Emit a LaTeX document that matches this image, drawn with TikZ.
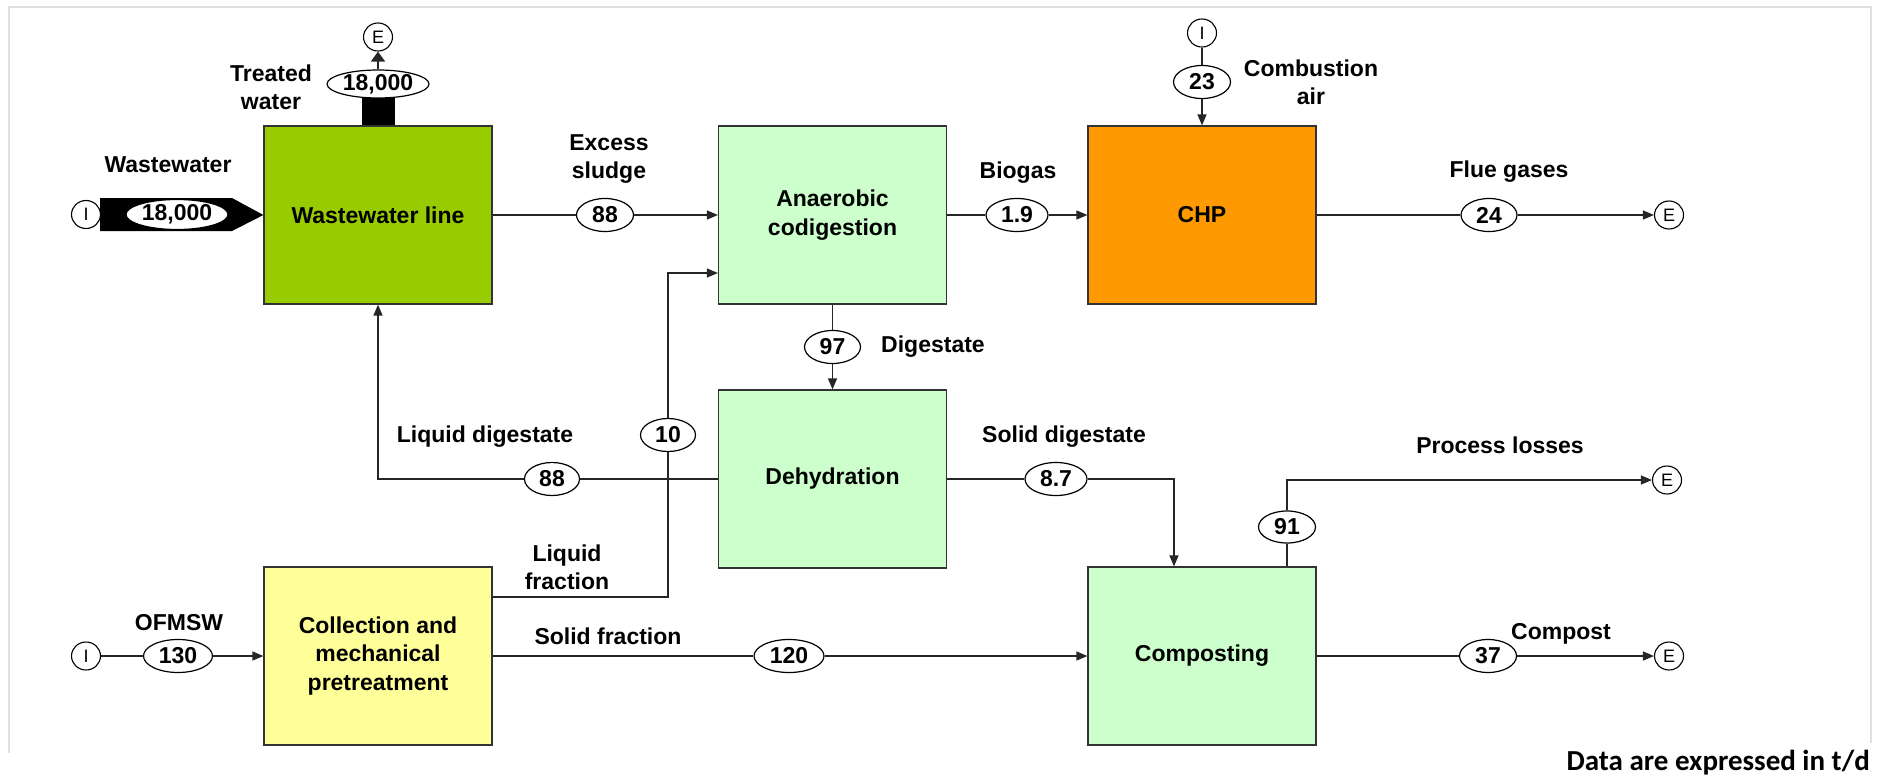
\documentclass[tikz,border=0pt]{standalone}
\usepackage{fontspec}
\setmainfont{Liberation Sans}
\newfontfamily\calib{Carlito}
\usetikzlibrary{shapes.geometric,arrows.meta}
\definecolor{wwgreen}{HTML}{99CC00}
\definecolor{lgreen}{HTML}{CCFFCC}
\definecolor{orng}{HTML}{FF9900}
\definecolor{lyellow}{HTML}{FFFF99}
\begin{document}
\begin{tikzpicture}[x=1pt,y=-1pt,
  box/.style={draw=black!80, line width=1.2pt, minimum width=228pt, minimum height=178pt, inner sep=0pt, align=center, font=\fontsize{23}{28.5}\selectfont\bfseries},
  fl/.style={ellipse, draw=black, line width=1.2pt, fill=white, inner sep=0pt, minimum width=57pt, minimum height=33pt, font=\fontsize{23}{27}\selectfont\bfseries},
  io/.style={ellipse, draw=black, line width=1.1pt, fill=white, inner sep=0pt, minimum width=29pt, minimum height=28pt, font=\fontsize{18}{20}\selectfont},
  lbl/.style={align=center, font=\fontsize{23}{28.5}\selectfont\bfseries, inner sep=0pt},
  ln/.style={line width=1.3pt, draw=black!85},
  arr/.style={ln, -{Triangle[length=11pt,width=9pt]}},
]
\useasboundingbox (0,0) rectangle (1881,779);
% faint frame
\draw[black!12, line width=1.5pt] (9,753) -- (9,7) -- (1871,7) -- (1871,743);

% process boxes
\node[box, fill=wwgreen] (ww) at (378,215) {Wastewater line};
\node[box, fill=lgreen] (ad) at (832.5,215) {Anaerobic\\codigestion};
\node[box, fill=orng] (chp) at (1202,215) {CHP};
\node[box, fill=lgreen] (dh) at (832.5,479) {Dehydration};
\node[box, fill=lyellow] (cmp) at (378,656) {Collection and\\mechanical\\pretreatment};
\node[box, fill=lgreen] (co) at (1202,656) {Composting};

% wastewater input (thick black arrow)
\fill[black] (100,198) -- (232,198) -- (ww.west) -- (232,231) -- (100,231) -- cycle;
\node[io] (Iww) at (86,214.5) {I};
\node[fl, minimum width=102pt, minimum height=30pt] (fwwin) at (177,214.5) {18,000};
\node[lbl] (lww) at (168,165) {Wastewater};

% treated water output (thick black bar)
\node[fill=black, minimum width=33pt, minimum height=30pt, inner sep=0pt, anchor=south] (twbar) at (ww.north) {};
\node[fl, minimum width=102pt, minimum height=28pt] (ftw) at (378,84) {18,000};
\node[io] (Etop) at (378,37) {E};
\draw[ln, -{Triangle[length=10pt,width=14pt]}] (ftw) -- (Etop);
\node[lbl] (ltw) at (271,87.5) {Treated\\water};

% excess sludge
\node[fl] (f88a) at (605,215) {88};
\draw[arr] (ww.east) -- (f88a) -- (ad.west);
\node[lbl] (les) at (609,159) {Excess\\sludge};

% biogas
\node[fl, minimum width=62pt] (f19) at (1017,215) {1.9};
\draw[arr] (ad.east) -- (f19) -- (chp.west);
\node[lbl] (lbg) at (1018,173) {Biogas};

% combustion air
\node[io] (Ichp) at (1202,33) {I};
\node[fl] (f23) at (1202,82) {23};
\draw[arr] (Ichp) -- (f23) -- (chp.north);
\node[lbl] (lca) at (1311,82.5) {Combustion\\air};

% flue gases
\node[fl, minimum width=56pt] (f24) at (1489,215) {24};
\node[io] (Eflue) at (1669,215) {E};
\draw[arr] (chp.east) -- (f24) -- (Eflue);
\node[lbl] (lfg) at (1509,172) {Flue gases};

% digestate
\node[fl, minimum width=56pt] (f97) at (832.5,347) {97};
\draw[arr] (ad.south) -- (f97) -- (dh.north);
\node[lbl] (ldg) at (933,347) {Digestate};

% liquid digestate
\node[fl, minimum width=55pt] (f88b) at (552,479) {88};
\coordinate (ldc) at (378,479);
\draw[arr] (dh.west) -- (f88b) -- (ldc) -- (ww.south);
\node[lbl] (lld) at (485,437) {Liquid digestate};

% liquid fraction
\coordinate (lf) at (668,597);
\coordinate (lfup) at (668,273);
\node[fl, minimum width=55pt] (f10) at (668,435) {10};
\draw[arr] (cmp.east |- lf) -- (lf) -- (f10) -- (lfup) -- (ad.west |- lfup);
\node[lbl] (llf) at (567,567.5) {Liquid\\fraction};

% solid digestate
\coordinate (sdc) at (1174,479);
\node[fl, minimum width=62pt] (f87) at (1056,479) {8.7};
\draw[arr] (dh.east) -- (f87) -- (sdc) -- (co.north -| sdc);
\node[lbl] (lsd) at (1064,437) {Solid digestate};

% process losses
\coordinate (plc) at (1287,480);
\node[fl, minimum height=32pt] (f91) at (1287,527) {91};
\node[io] (Eloss) at (1667,480) {E};
\draw[arr] (co.north -| plc) -- (f91) -- (plc) -- (Eloss);
\node[lbl] (lpl) at (1500,445) {Process losses};

% OFMSW
\node[io] (Iof) at (86,656) {I};
\node[fl, minimum width=69pt] (f130) at (178,656) {130};
\draw[arr] (Iof) -- (f130) -- (cmp.west);
\node[lbl] (lof) at (179,623) {OFMSW};

% solid fraction
\node[fl, minimum width=70pt] (f120) at (789,656) {120};
\draw[arr] (cmp.east) -- (f120) -- (co.west);
\node[lbl] (lsf) at (608,636) {Solid fraction};

% compost
\node[fl] (f37) at (1488,656) {37};
\node[io] (Ecomp) at (1669,656) {E};
\draw[arr] (co.east) -- (f37) -- (Ecomp);
\node[lbl] (lcp) at (1561,634) {Compost};

% note
\node[anchor=east, inner sep=0pt, font=\calib\bfseries\fontsize{29}{32}\selectfont] (note) at (1870,763) {Data are expressed in t/d};
\end{tikzpicture}
\end{document}
